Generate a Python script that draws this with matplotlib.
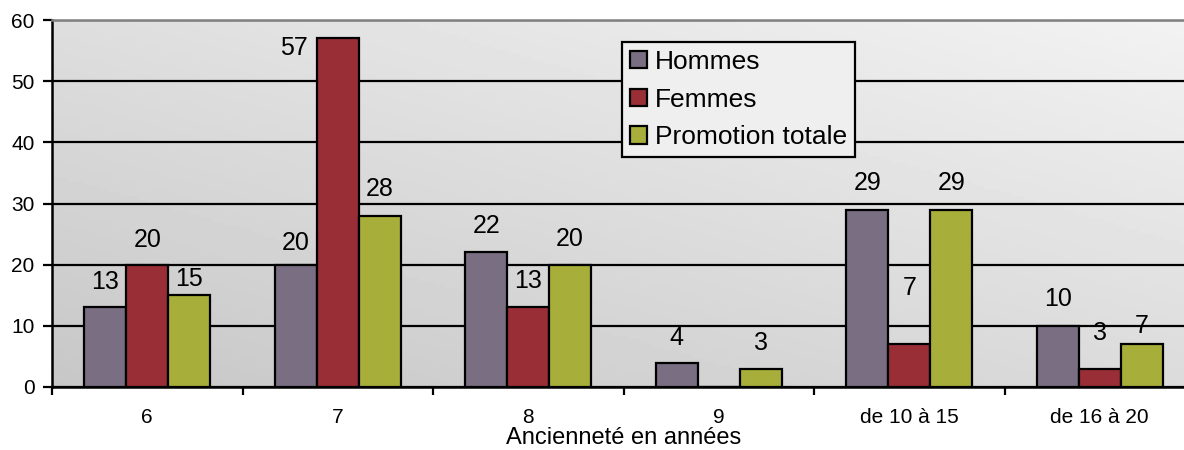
import matplotlib.pyplot as plt
import numpy as np

plt.rcParams['font.family'] = ['Liberation Sans', 'DejaVu Sans']

# Données
categories = ['6', '7', '8', '9', 'de 10 à 15', 'de 16 à 20']
hommes = [13, 20, 22, 4, 29, 10]
femmes = [20, 57, 13, 0, 7, 3]
promotion = [15, 28, 20, 3, 29, 7]
series_names = ['Hommes', 'Femmes', 'Promotion totale']

colors = ['#7a6e83', '#992e36', '#a8ae3a']

# décalage des étiquettes au-dessus des barres (pixels), comme dans Excel
label_dy = [
    [25, 22, 26, 25, 27, 27],
    [25, -10, 26, 0, 56, 36],
    [16, 27, 26, 26, 27, 18],
]
label_dx = [
    [0, 0, 0, 0, 0, 0],
    [0, -44, 0, 0, 0, 0],
    [0, 0, 0, 0, 0, 0],
]

fig = plt.figure(figsize=(11.84, 4.5), dpi=100)
# la zone de tracé dépasse un peu à droite, comme sur l'original
ax = fig.add_axes([52 / 1184, 63 / 450, 1143 / 1184, 367 / 450])

# fond en dégradé
gx, gy = np.meshgrid(np.linspace(0, 1, 200), np.linspace(0, 1, 100))
grad = 0.78 + 0.09 * gy + 0.08 * gx
ax.imshow(grad, cmap='gray', vmin=0, vmax=1, origin='lower', aspect='auto',
          extent=[0, 1, 0, 1], transform=ax.transAxes, zorder=0)

x = np.arange(len(categories))
w = 0.22
data = [hommes, femmes, promotion]
for i, (vals, name, c) in enumerate(zip(data, series_names, colors)):
    bars = ax.bar(x + (i - 1) * w, vals, w, color=c, edgecolor='black',
                  linewidth=1.6, label=name, zorder=3)
    for j, (b, v) in enumerate(zip(bars, vals)):
        if v == 0:
            continue
        ax.annotate(str(v), (b.get_x() + b.get_width() / 2, v),
                    xytext=(label_dx[i][j], label_dy[i][j]),
                    textcoords='offset pixels', ha='center', va='center',
                    fontsize=18, zorder=4)

ax.set_xlim(-0.5, len(categories) - 0.5)
ax.set_ylim(0, 60)
ax.set_yticks(range(0, 61, 10))
ax.grid(axis='y', color='black', linewidth=1.6, zorder=1)
ax.set_axisbelow(True)

ax.set_xticks(x)
ax.set_xticklabels(categories)
ax.set_xticks(np.arange(-0.5, len(categories), 1), minor=True)
ax.tick_params(axis='x', which='major', length=0, pad=15, labelsize=15)
ax.tick_params(axis='x', which='minor', length=6, width=1.6, direction='out')
ax.tick_params(axis='y', length=6.5, width=1.6, labelsize=15, pad=6)

for s in ['left', 'bottom']:
    ax.spines[s].set_linewidth(1.8)
ax.spines['top'].set_color('#808080')
ax.spines['top'].set_linewidth(1.8)
ax.spines['right'].set_visible(False)

ax.set_xlabel('Ancienneté en années', fontsize=17, labelpad=0)

leg = ax.legend(loc='upper left', bbox_to_anchor=((622 - 52) / 1143, (387 - 42) / 367),
                fontsize=19, frameon=True, fancybox=False, edgecolor='black',
                facecolor='#efefef', framealpha=1, handlelength=0.64,
                handleheight=0.64, handletextpad=0.3, labelspacing=0.52,
                borderpad=0.3, borderaxespad=0)
leg.get_frame().set_linewidth(1.6)
leg.set_zorder(5)

fig.savefig('out.png', dpi=100)
